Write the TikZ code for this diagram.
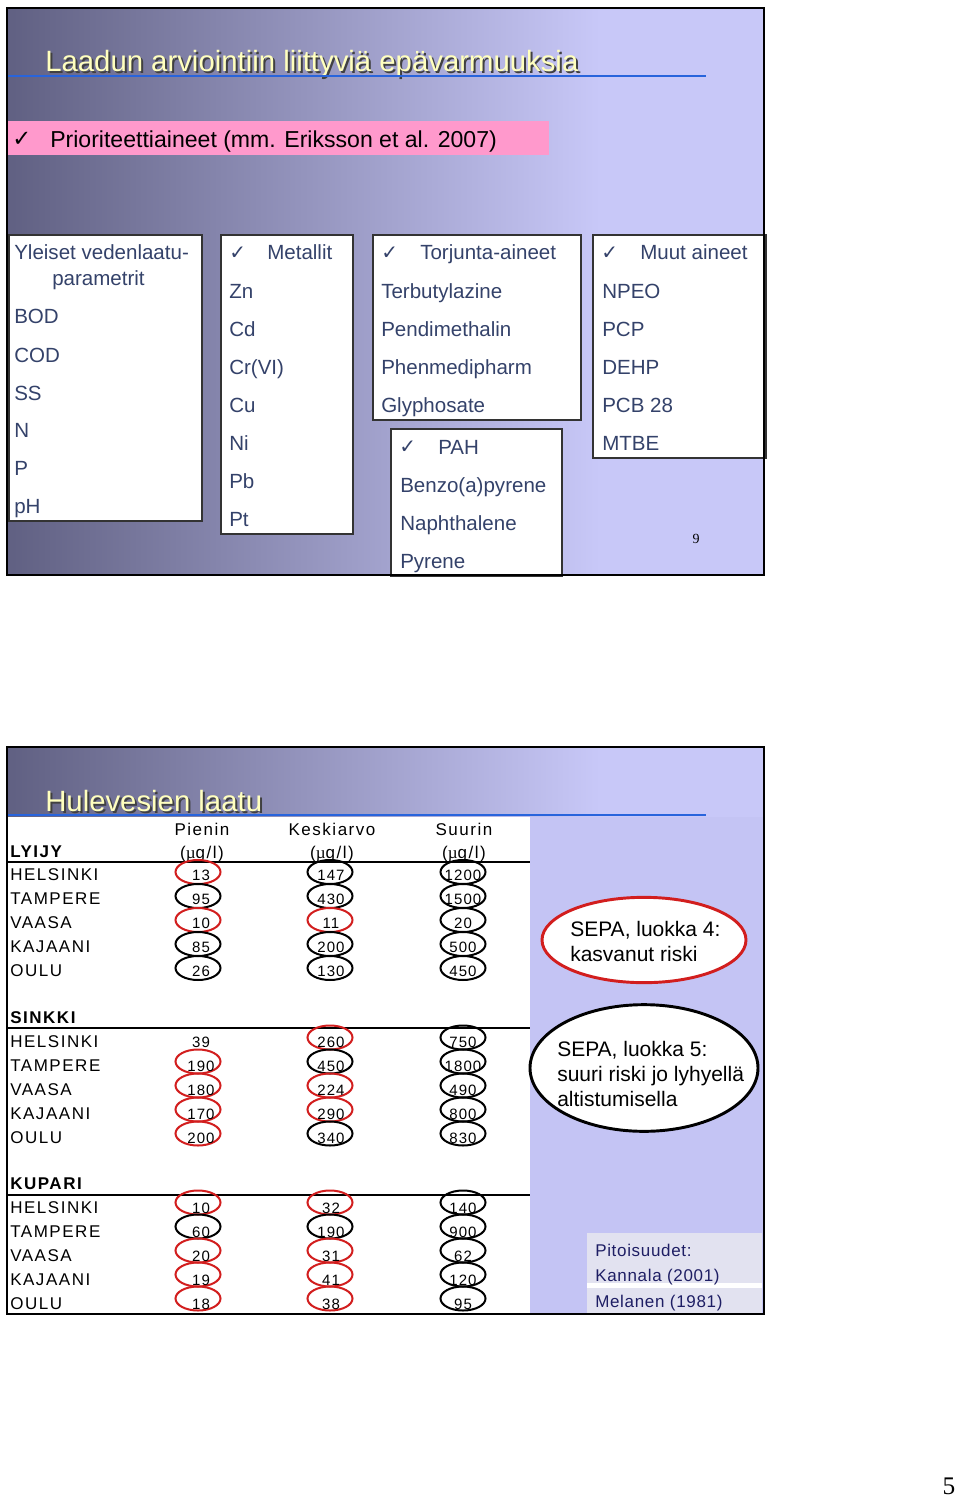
\documentclass[tikz,border=0pt]{standalone}
\usepackage{fontspec}
\setmainfont{Liberation Sans}
\newfontfamily\serifnum{Liberation Serif}
\newfontfamily\chk{DejaVu Sans}
\newfontfamily\spaced[LetterSpace=9]{Liberation Sans}
\newfontfamily\spacedcite[LetterSpace=4]{Liberation Sans}
\newfontfamily\spacednum[LetterSpace=7]{Liberation Sans}
\usetikzlibrary{shapes.geometric}
\definecolor{gdark}{RGB}{96,96,130}
\definecolor{glight}{RGB}{200,200,248}
\definecolor{panel}{RGB}{196,196,244}
\definecolor{boxtxt}{RGB}{52,66,106}
\definecolor{pinkbar}{RGB}{255,153,204}
\definecolor{titleblue}{RGB}{40,100,220}
\definecolor{titleyel}{RGB}{255,255,190}
\definecolor{ovred}{RGB}{210,30,30}
\definecolor{citetxt}{RGB}{30,30,100}
\definecolor{citebg}{RGB}{226,226,240}
\tikzset{
  frame/.style={draw=black, line width=1.8pt},
  lbox/.style={draw=black!80, line width=1pt, fill=white},
  btxt/.style={anchor=base west, inner sep=0pt, text=boxtxt, font=\fontsize{15.4pt}{18pt}\selectfont},
  bchk/.style={anchor=base west, inner sep=0pt, text=boxtxt, font=\chk\fontsize{15pt}{17pt}\selectfont},
  ttl/.style={anchor=base west, inner sep=0pt, font=\fontsize{22pt}{26pt}\selectfont},
  rowlab/.style={anchor=base west, inner sep=0pt, font=\spaced\fontsize{12.75pt}{15pt}\selectfont},
  hdr/.style={anchor=base, inner sep=0pt, font=\spaced\fontsize{12.75pt}{15pt}\selectfont},
  num/.style={anchor=base, inner sep=0pt, font=\spacednum\fontsize{11.25pt}{13pt}\selectfont},
  ovr/.style={draw=ovred, line width=1.5pt},
  ovb/.style={draw=black, line width=1.5pt},
  ovn/.style={draw=none},
  sepatxt/.style={anchor=base west, inner sep=0pt, font=\fontsize{15.75pt}{18pt}\selectfont},
  citet/.style={anchor=base west, inner sep=0pt, text=citetxt, font=\spacedcite\fontsize{12.75pt}{15pt}\selectfont},
}
\newcommand{\ovoff}{8}
\newcommand{\trow}[9]{%
  \node[rowlab] (#3l) at (10,#1) {#2};
  \draw[#5] (198,#1-\ovoff) ellipse [x radius=22.5, y radius=12];
  \draw[#7] (330,#1-\ovoff) ellipse [x radius=22.5, y radius=12];
  \draw[#9] (463,#1-\ovoff) ellipse [x radius=22.5, y radius=12];
  \node[num] (#3a) at (201,#1) {#4};
  \node[num] (#3b) at (331,#1) {#6};
  \node[num] (#3c) at (463,#1) {#8};
}
\begin{document}
\begin{tikzpicture}[x=0.75pt,y=-0.75pt]
\useasboundingbox (0,0) rectangle (960,1498);
\fill[white] (0,0) rectangle (960,1498);

% ================= slide 1 =================
\shade[left color=gdark, right color=glight] (7,8) rectangle (600,575);
\fill[glight] (600,8) rectangle (764,575);
\node[ttl, text=black!75] (t1s) at (47,74) {Laadun arviointiin liittyviä epävarmuuksia};
\node[ttl, text=titleyel] (t1) at (45,72) {Laadun arviointiin liittyviä epävarmuuksia};
\draw[titleblue, line width=2pt] (8,76) -- (706,76);

\fill[pinkbar] (8,121) rectangle (549,155);
\node[anchor=base west, inner sep=0pt, font=\chk\fontsize{17pt}{19pt}\selectfont] (pc) at (12,147) {✓};
\node[anchor=base west, inner sep=0pt, font=\fontsize{17.3pt}{20pt}\selectfont] (pt) at (50,148) {Prioriteettiaineet (mm. Eriksson et al. 2007)};

% boxes
\draw[lbox] (9,235) rectangle (202,521);
\draw[lbox] (221,235) rectangle (353,534);
\draw[lbox] (373,235) rectangle (581,420);
\draw[lbox] (391,429) rectangle (562,576);
\draw[lbox] (593,235) rectangle (766,458);

% box 1
\node[btxt] (a0) at (14,260) {Yleiset vedenlaatu-};
\node[btxt] (a1) at (52,285) {parametrit};
\node[btxt] (a2) at (14,323) {BOD};
\node[btxt] (a3) at (14,362) {COD};
\node[btxt] (a4) at (14,400) {SS};
\node[btxt] (a5) at (14,437) {N};
\node[btxt] (a6) at (14,475) {P};
\node[btxt] (a7) at (14,513) {pH};
% box 2
\node[bchk] (b0c) at (229,259) {✓};
\node[btxt] (b0) at (267,260) {Metallit};
\node[btxt] (b1) at (229,298) {Zn};
\node[btxt] (b2) at (229,336) {Cd};
\node[btxt] (b3) at (229,374) {Cr(VI)};
\node[btxt] (b4) at (229,412) {Cu};
\node[btxt] (b5) at (229,450) {Ni};
\node[btxt] (b6) at (229,488) {Pb};
\node[btxt] (b7) at (229,526) {Pt};
% box 3
\node[bchk] (c0c) at (381,259) {✓};
\node[btxt] (c0) at (420,260) {Torjunta-aineet};
\node[btxt] (c1) at (381,298) {Terbutylazine};
\node[btxt] (c2) at (381,336) {Pendimethalin};
\node[btxt] (c3) at (381,374) {Phenmedipharm};
\node[btxt] (c4) at (381,412) {Glyphosate};
% box 4
\node[bchk] (d0c) at (399,453) {✓};
\node[btxt] (d0) at (438,454) {PAH};
\node[btxt] (d1) at (400,492) {Benzo(a)pyrene};
\node[btxt] (d2) at (400,530) {Naphthalene};
\node[btxt] (d3) at (400,568) {Pyrene};
% box 5
\node[bchk] (e0c) at (601,259) {✓};
\node[btxt] (e0) at (640,260) {Muut aineet};
\node[btxt] (e1) at (602,298) {NPEO};
\node[btxt] (e2) at (602,336) {PCP};
\node[btxt] (e3) at (602,374) {DEHP};
\node[btxt] (e4) at (602,412) {PCB 28};
\node[btxt] (e5) at (602,450) {MTBE};

\node[anchor=base, inner sep=0pt, font=\serifnum\fontsize{10.5pt}{12pt}\selectfont] (p9) at (696,543) {9};
\draw[frame] (7,8) rectangle (764,575);

% ================= slide 2 =================
\shade[left color=gdark, right color=glight] (7,747) rectangle (600,817);
\fill[glight] (600,747) rectangle (764,817);
\fill[white] (8,817) rectangle (530,1313);
\fill[panel] (530,817) rectangle (764,1313);
\node[ttl, text=black!75] (t2s) at (47,813) {Hulevesien laatu};
\node[ttl, text=titleyel] (t2) at (45,811) {Hulevesien laatu};
\draw[titleblue, line width=2pt] (8,815) -- (706,815);

\node[hdr] (h1) at (202,835) {Pienin};
\node[hdr] (h2) at (332,835) {Keskiarvo};
\node[hdr] (h3) at (464,835) {Suurin};
\node[hdr] (u1) at (202,858) {({\serifnum µ}g/l)};
\node[hdr] (u2) at (332,858) {({\serifnum µ}g/l)};
\node[hdr] (u3) at (464,858) {({\serifnum µ}g/l)};

\node[rowlab, font=\spaced\bfseries\fontsize{12.75pt}{15pt}\selectfont] (lyijy) at (10,857) {LYIJY};
\draw[line width=1pt] (8,862) -- (530,862);
\renewcommand{\ovoff}{8}
\trow{880}{HELSINKI}{ph}{13}{ovr}{147}{ovb}{1200}{ovb}
\trow{904}{TAMPERE}{pt}{95}{ovb}{430}{ovb}{1500}{ovb}
\trow{928}{VAASA}{pv}{10}{ovr}{11}{ovr}{20}{ovb}
\trow{952}{KAJAANI}{pk}{85}{ovb}{200}{ovb}{500}{ovb}
\trow{976}{OULU}{po}{26}{ovb}{130}{ovb}{450}{ovb}

\node[rowlab, font=\spaced\bfseries\fontsize{12.75pt}{15pt}\selectfont] (sinkki) at (10,1023) {SINKKI};
\draw[line width=1pt] (8,1028) -- (530,1028);
\renewcommand{\ovoff}{9.5}
\trow{1047}{HELSINKI}{sh}{39}{ovn}{260}{ovr}{750}{ovb}
\trow{1071}{TAMPERE}{st}{190}{ovr}{450}{ovb}{1800}{ovb}
\trow{1095}{VAASA}{sv}{180}{ovr}{224}{ovr}{490}{ovb}
\trow{1119}{KAJAANI}{sk}{170}{ovr}{290}{ovr}{800}{ovb}
\trow{1143}{OULU}{so}{200}{ovr}{340}{ovb}{830}{ovb}

\node[rowlab, font=\spaced\bfseries\fontsize{12.75pt}{15pt}\selectfont] (kupari) at (10,1189) {KUPARI};
\draw[line width=1pt] (8,1195) -- (530,1195);
\renewcommand{\ovoff}{10.5}
\trow{1213}{HELSINKI}{kh}{10}{ovr}{32}{ovr}{140}{ovb}
\trow{1237}{TAMPERE}{kt}{60}{ovb}{190}{ovb}{900}{ovb}
\trow{1261}{VAASA}{kv}{20}{ovr}{31}{ovr}{62}{ovb}
\trow{1285}{KAJAANI}{kk}{19}{ovr}{41}{ovr}{120}{ovb}
\trow{1309}{OULU}{ko}{18}{ovr}{38}{ovr}{95}{ovb}

% SEPA ellipses
\node[ellipse, draw=ovred, line width=2.2pt, fill=white, minimum width=153pt, minimum height=64pt, inner sep=0pt] (sepa4) at (644,940) {};
\node[sepatxt] (s4a) at (570,936) {SEPA, luokka 4:};
\node[sepatxt] (s4b) at (570,961) {kasvanut riski};
\node[ellipse, draw=black, line width=2.2pt, fill=white, minimum width=171pt, minimum height=95pt, inner sep=0pt] (sepa5) at (644,1068) {};
\node[sepatxt] (s5a) at (557,1056) {SEPA, luokka 5:};
\node[sepatxt] (s5b) at (557,1081) {suuri riski jo lyhyellä};
\node[sepatxt] (s5c) at (557,1106) {altistumisella};

% citation box
\fill[citebg] (587,1233) rectangle (762,1313);
\fill[white] (587,1283) rectangle (762,1288);
\node[citet] (ci1) at (595,1256) {Pitoisuudet:};
\node[citet] (ci2) at (595,1281) {Kannala (2001)};
\node[citet] (ci3) at (595,1307) {Melanen (1981)};

\draw[frame] (7,747) rectangle (764,1314);

\node[anchor=base, inner sep=0pt, font=\serifnum\fontsize{19pt}{22pt}\selectfont] (p5) at (949,1494) {5};
\end{tikzpicture}
\end{document}
